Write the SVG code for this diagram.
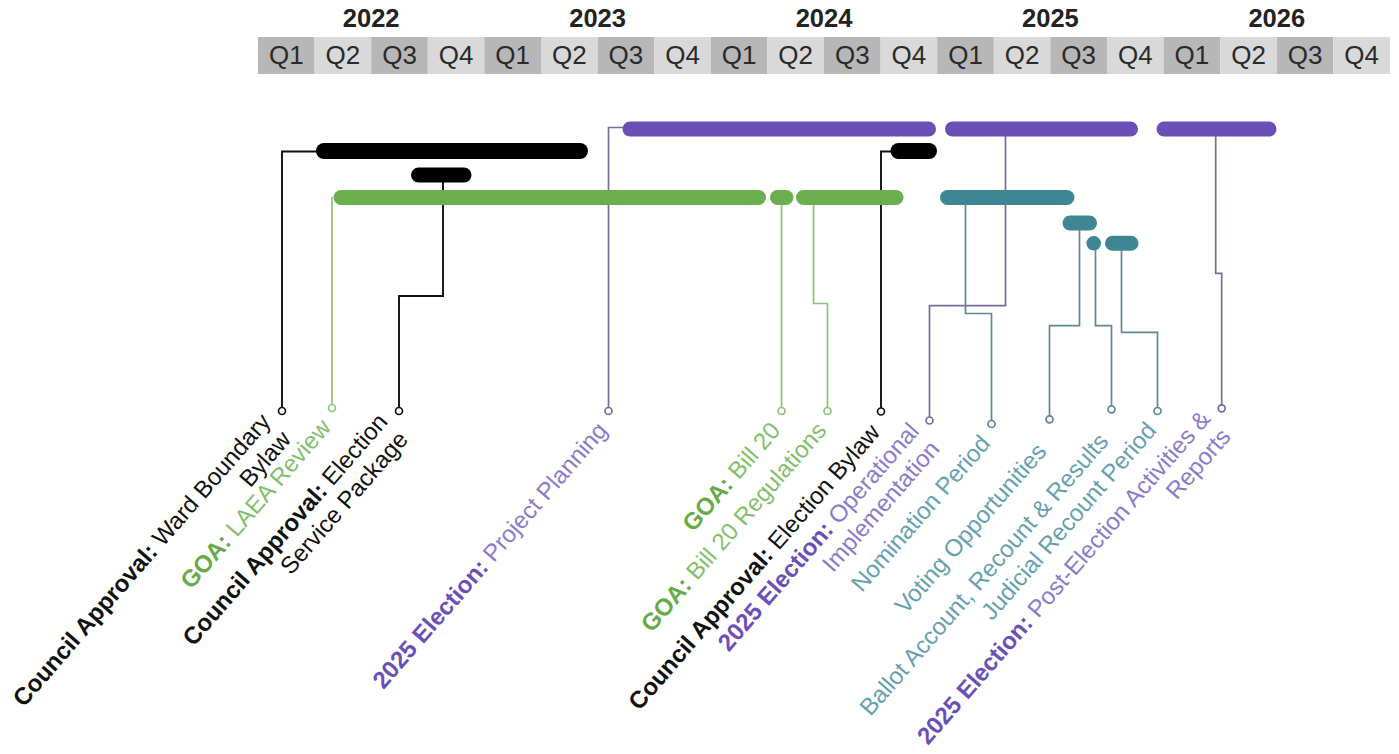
<svg xmlns="http://www.w3.org/2000/svg" width="1399" height="754" viewBox="0 0 1399 754">
<style>
text{font-family:"Liberation Sans",Arial,sans-serif}
.yr{font-size:25.5px;font-weight:bold;fill:#222;text-anchor:middle}
.q{font-size:26px;fill:#2a2a2a;text-anchor:middle}
.cd{fill:#b7b7b7}.cl{fill:#d9d9d9}
.lbl{font-size:24px;text-anchor:end}
.b{font-weight:bold}
.bar{fill:none;stroke-linecap:round}
.kb{stroke:#000}.gb{stroke:#6aae4d}.pb{stroke:#6a50b6}.tb{stroke:#3e8694}
.con{fill:none;stroke-width:1.7}
.kc{stroke:#111;stroke-width:1.9}.gc{stroke:#8cc47a}.pc{stroke:#776c9c}.tc{stroke:#5e8892}
.end{fill:#fff;stroke-width:1.7}
.kt{fill:#111}.gt{fill:#82bf6a}.gtb{fill:#66ab48}.pt{fill:#8a7bcb}.ptb{fill:#6a50b6}.tt{fill:#64a0b0}
</style>
<g id="header">
<rect class="cd" x="258" y="37" width="56.6" height="37"/><rect class="cl" x="314.6" y="37" width="56.6" height="37"/><rect class="cd" x="371.2" y="37" width="56.6" height="37"/><rect class="cl" x="427.8" y="37" width="56.6" height="37"/>
<rect class="cd" x="484.4" y="37" width="56.6" height="37"/><rect class="cl" x="541" y="37" width="56.6" height="37"/><rect class="cd" x="597.6" y="37" width="56.6" height="37"/><rect class="cl" x="654.2" y="37" width="56.6" height="37"/>
<rect class="cd" x="710.8" y="37" width="56.6" height="37"/><rect class="cl" x="767.4" y="37" width="56.6" height="37"/><rect class="cd" x="824" y="37" width="56.6" height="37"/><rect class="cl" x="880.6" y="37" width="56.6" height="37"/>
<rect class="cd" x="937.2" y="37" width="56.6" height="37"/><rect class="cl" x="993.8" y="37" width="56.6" height="37"/><rect class="cd" x="1050.4" y="37" width="56.6" height="37"/><rect class="cl" x="1107" y="37" width="56.6" height="37"/>
<rect class="cd" x="1163.6" y="37" width="56.6" height="37"/><rect class="cl" x="1220.2" y="37" width="56.6" height="37"/><rect class="cd" x="1276.8" y="37" width="56.6" height="37"/><rect class="cl" x="1333.4" y="37" width="56.6" height="37"/>
<text class="yr" x="371.2" y="27">2022</text><text class="yr" x="597.6" y="27">2023</text><text class="yr" x="824" y="27">2024</text><text class="yr" x="1050.4" y="27">2025</text><text class="yr" x="1276.8" y="27">2026</text>
<text class="q" x="286.3" y="64">Q1</text><text class="q" x="342.9" y="64">Q2</text><text class="q" x="399.5" y="64">Q3</text><text class="q" x="456.1" y="64">Q4</text>
<text class="q" x="512.7" y="64">Q1</text><text class="q" x="569.3" y="64">Q2</text><text class="q" x="625.9" y="64">Q3</text><text class="q" x="682.5" y="64">Q4</text>
<text class="q" x="739.1" y="64">Q1</text><text class="q" x="795.7" y="64">Q2</text><text class="q" x="852.3" y="64">Q3</text><text class="q" x="908.9" y="64">Q4</text>
<text class="q" x="965.5" y="64">Q1</text><text class="q" x="1022.1" y="64">Q2</text><text class="q" x="1078.7" y="64">Q3</text><text class="q" x="1135.3" y="64">Q4</text>
<text class="q" x="1191.9" y="64">Q1</text><text class="q" x="1248.5" y="64">Q2</text><text class="q" x="1305.1" y="64">Q3</text><text class="q" x="1361.7" y="64">Q4</text>
</g>
<g id="connectors">
<path class="con kc" d="M317,151.5 H282 V407.5"/>
<path class="con gc" d="M332,197 V404.5"/>
<path class="con kc" d="M443,182 V296 H399 V407.5"/>
<path class="con pc" d="M623,127.5 H608.5 V407.5"/>
<path class="con gc" d="M781.5,204 V407.5"/>
<path class="con gc" d="M813.5,204 V303.5 H827.5 V407.5"/>
<path class="con kc" d="M891,151.5 H881 V408"/>
<path class="con pc" d="M1005.5,136 V305.7 H929.5 V417"/>
<path class="con tc" d="M965.5,204 V313.5 H991.5 V420.5"/>
<path class="con tc" d="M1079.5,230 V325.7 H1049.5 V415.8"/>
<path class="con tc" d="M1095.5,250 V325.7 H1111.5 V405.8"/>
<path class="con tc" d="M1121.5,250 V332.3 H1157.5 V407.5"/>
<path class="con pc" d="M1215.7,136 V273.3 H1221.7 V404.8"/>
</g>
<g id="n-ward">
<line class="bar kb" x1="324" y1="151" x2="580" y2="151" stroke-width="16"/>
<circle class="end kc" cx="282" cy="411" r="3.5"/>
<text class="lbl kt" transform="translate(276,426) rotate(-49)"><tspan x="0" y="-5.5"><tspan class="b">Council Approval:</tspan> Ward Boundary</tspan><tspan x="0" y="21.5">Bylaw</tspan></text>
</g>
<g id="n-laea">
<line class="bar gb" x1="341" y1="197.5" x2="758.5" y2="197.5" stroke-width="15"/>
<circle class="end gc" cx="332" cy="408" r="3.5"/>
<text class="lbl gt" transform="translate(326,423) rotate(-49)"><tspan x="0" y="8"><tspan class="b gtb">GOA:</tspan> LAEA Review</tspan></text>
</g>
<g id="n-esp">
<line class="bar kb" x1="418.5" y1="175" x2="464" y2="175" stroke-width="15"/>
<circle class="end kc" cx="399" cy="411" r="3.5"/>
<text class="lbl kt" transform="translate(393,426) rotate(-49)"><tspan x="0" y="-5.5"><tspan class="b">Council Approval:</tspan> Election</tspan><tspan x="0" y="21.5">Service Package</tspan></text>
</g>
<g id="n-planning">
<line class="bar pb" x1="630" y1="129" x2="928.5" y2="129" stroke-width="15"/>
<circle class="end pc" cx="608.5" cy="411" r="3.5"/>
<text class="lbl pt" transform="translate(602.5,426) rotate(-49)"><tspan x="0" y="8"><tspan class="b ptb">2025 Election:</tspan> Project Planning</tspan></text>
</g>
<g id="n-bill20">
<line class="bar gb" x1="777.5" y1="197.5" x2="786" y2="197.5" stroke-width="15"/>
<circle class="end gc" cx="781.5" cy="411" r="3.5"/>
<text class="lbl gt" transform="translate(775.5,426) rotate(-49)"><tspan x="0" y="8"><tspan class="b gtb">GOA:</tspan> Bill 20</tspan></text>
</g>
<g id="n-regs">
<line class="bar gb" x1="803.5" y1="197.5" x2="896" y2="197.5" stroke-width="15"/>
<circle class="end gc" cx="827.5" cy="411" r="3.5"/>
<text class="lbl gt" transform="translate(821.5,426) rotate(-49)"><tspan x="0" y="8"><tspan class="b gtb">GOA:</tspan> Bill 20 Regulations</tspan></text>
</g>
<g id="n-bylaw">
<line class="bar kb" x1="898.5" y1="151" x2="929" y2="151" stroke-width="16"/>
<circle class="end kc" cx="881" cy="411.5" r="3.5"/>
<text class="lbl kt" transform="translate(875,428) rotate(-49)"><tspan x="0" y="8"><tspan class="b">Council Approval:</tspan> Election Bylaw</tspan></text>
</g>
<g id="n-operational">
<line class="bar pb" x1="952.5" y1="129" x2="1130.5" y2="129" stroke-width="15"/>
<circle class="end pc" cx="929.5" cy="420.5" r="3.5"/>
<text class="lbl pt" transform="translate(924.5,435.5) rotate(-49)"><tspan x="0" y="-5.5"><tspan class="b ptb">2025 Election:</tspan> Operational</tspan><tspan x="0" y="21.5">Implementation</tspan></text>
</g>
<g id="n-nomination">
<line class="bar tb" x1="947.5" y1="197.5" x2="1067" y2="197.5" stroke-width="15"/>
<circle class="end tc" cx="991.5" cy="424" r="3.5"/>
<text class="lbl tt" transform="translate(985.5,439) rotate(-49)"><tspan x="0" y="8">Nomination Period</tspan></text>
</g>
<g id="n-voting">
<line class="bar tb" x1="1070" y1="223" x2="1089.5" y2="223" stroke-width="15"/>
<circle class="end tc" cx="1049.5" cy="419.3" r="3.5"/>
<text class="lbl tt" transform="translate(1041.5,447) rotate(-49)"><tspan x="0" y="8">Voting Opportunities</tspan></text>
</g>
<g id="n-ballot">
<circle cx="1093.7" cy="243.3" r="7.3" fill="#3e8694"/>
<circle class="end tc" cx="1111.5" cy="409.3" r="3.5"/>
<text class="lbl tt" transform="translate(1103.5,437) rotate(-49)"><tspan x="0" y="8">Ballot Account, Recount &amp; Results</tspan></text>
</g>
<g id="n-judicial">
<line class="bar tb" x1="1112.5" y1="243.3" x2="1131" y2="243.3" stroke-width="15"/>
<circle class="end tc" cx="1157.5" cy="411" r="3.5"/>
<text class="lbl tt" transform="translate(1151.5,426) rotate(-49)"><tspan x="0" y="8">Judicial Recount Period</tspan></text>
</g>
<g id="n-post">
<line class="bar pb" x1="1164" y1="129" x2="1269" y2="129" stroke-width="15"/>
<circle class="end pc" cx="1221.7" cy="408.3" r="3.5"/>
<text class="lbl pt" transform="translate(1215.7,423.3) rotate(-49)"><tspan x="0" y="-5.5"><tspan class="b ptb">2025 Election:</tspan> Post-Election Activities &amp;</tspan><tspan x="0" y="21.5">Reports</tspan></text>
</g>
</svg>
